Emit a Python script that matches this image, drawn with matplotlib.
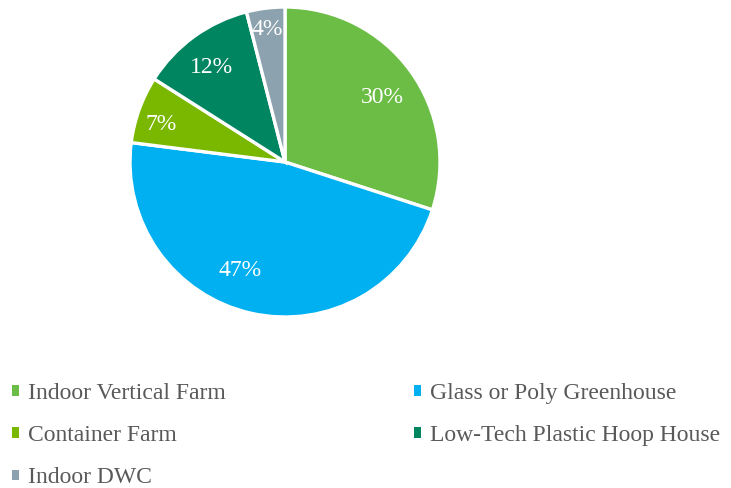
import matplotlib.pyplot as plt
from matplotlib.patches import Patch
import numpy as np

# slice data, clockwise from the top
labels = ['Indoor Vertical Farm', 'Glass or Poly Greenhouse', 'Container Farm',
          'Low-Tech Plastic Hoop House', 'Indoor DWC']
shares = [30, 47, 7, 12, 4]
colors = ['#6CBD45', '#00B0F0', '#7AB800', '#008561', '#8CA2AE']
# where each percent label sits: fraction of radius, degrees off the slice middle
label_dist = [0.755, 0.76, 0.834, 0.77, 0.86]
label_shift = [-2.4, -10, 3.1, 1.8, 0.6]

plt.rcParams['font.family'] = ['Liberation Serif', 'DejaVu Serif']

fig = plt.figure(figsize=(7.31, 4.88), dpi=100)
ax = fig.add_axes([130 / 731, (488 - 317) / 488, 310 / 731, 310 / 488])

wedges, _ = ax.pie(shares, colors=colors, startangle=90, counterclock=False,
                   radius=1, wedgeprops=dict(edgecolor='white', linewidth=2.4))
ax.set_xlim(-1, 1)
ax.set_ylim(-1, 1)
ax.set_aspect('equal')

for w, val, d, s in zip(wedges, shares, label_dist, label_shift):
    ang = np.deg2rad((w.theta1 + w.theta2) / 2 + s)
    ax.text(d * np.cos(ang), d * np.sin(ang), f'{val}%', color='white',
            fontsize=17, ha='center', va='center')

# legend reads row by row, matplotlib fills column by column
order = [0, 2, 4, 1, 3]
handles = [Patch(facecolor=colors[i], edgecolor='none') for i in order]
fig.legend(handles, [labels[i] for i in order], loc='upper left',
           bbox_to_anchor=(-0.012, 0.259), ncol=2, frameon=False, fontsize=17,
           labelcolor='#595959', handlelength=0.27, handleheight=0.3,
           handletextpad=0.38, labelspacing=0.9, columnspacing=8.0)

fig.savefig('out.png', dpi=100)
